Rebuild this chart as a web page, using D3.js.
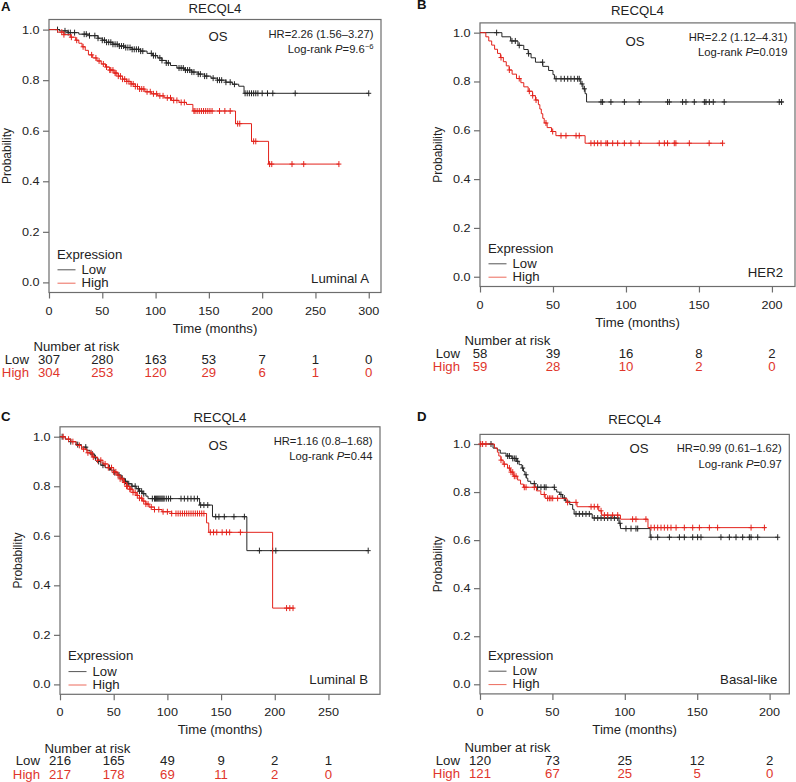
<!DOCTYPE html>
<html><head><meta charset="utf-8">
<script src="https://cdn.jsdelivr.net/npm/d3@7"></script>
<style>
body{margin:0;background:#fff}
svg{display:block}
text{font-family:"Liberation Sans",Arial,Helvetica,sans-serif;fill:#222}
</style>
</head><body>
<svg id="chart" width="796" height="782"></svg>
<script>
// ---------------- DATA ----------------
const yTicks = [0, 0.2, 0.4, 0.6, 0.8, 1.0];

// Panel A – Luminal A
const xTicksA = [0, 50, 100, 150, 200, 250, 300];
const riskLowA = [307, 280, 163, 53, 7, 1, 0];
const riskHighA = [304, 253, 120, 29, 6, 1, 0];
const lowStepsA = [[0,1],[10,0.995],[18,0.988],[28,0.982],[38,0.976],[46,0.966],[50,0.958],[54,0.95],[60,0.942],[66,0.935],[72,0.929],[78,0.922],[86,0.915],[92,0.906],[97,0.897],[102,0.888],[106,0.878],[110,0.868],[114,0.858],[120,0.848],[127,0.84],[134,0.832],[140,0.824],[146,0.816],[152,0.808],[158,0.8],[166,0.792],[172,0.784],[178,0.776],[183,0.748]];
const lowEndA = 300;
const highStepsA = [[0,1],[8,0.99],[14,0.98],[20,0.97],[25,0.958],[28,0.946],[31,0.932],[34,0.918],[37,0.9],[41,0.888],[45,0.876],[49,0.864],[53,0.852],[57,0.84],[61,0.828],[65,0.816],[69,0.804],[73,0.795],[77,0.785],[81,0.775],[85,0.765],[90,0.754],[96,0.746],[102,0.738],[108,0.73],[115,0.72],[122,0.712],[129,0.704],[135,0.678],[175,0.628],[190,0.558],[206,0.468]];
const highEndA = 272;
const lowCensorA = [8,15,18,20,24,33,35,38,43,46,50,52,54,56,58,60,62,64,66,68,70,72,74,76,78,80,82,84,86,88,96,98,100,104,106,110,112,122,124,126,128,130,132,134,136,140,142,146,148,154,158,160,162,166,170,174,184,186,188,190,192,194,196,200,205,210,231,300];
const highCensorA = [12,14,21,26,32,40,44,47,51,54,57,58,60,62,63,65,67,69,71,73,75,77,79,81,83,85,87,89,92,95,98,101,104,107,111,114,117,120,124,127,136,137,139,141,143,145,147,149,151,153,160,165,170,177,179,192,194,207,209,228,239,272];

// Panel B – HER2
const xTicksB = [0, 50, 100, 150, 200];
const riskLowB = [58, 39, 16, 8, 2];
const riskHighB = [59, 28, 10, 2, 0];
const lowStepsB = [[0,1],[15,0.983],[21,0.966],[26,0.948],[30,0.931],[33,0.914],[35,0.897],[38,0.879],[43,0.862],[47,0.845],[50,0.828],[51,0.811],[69,0.79],[70.5,0.77],[72,0.75],[73,0.716]];
const lowEndB = 208;
const highStepsB = [[0,1],[4,0.983],[6,0.966],[8,0.949],[10,0.932],[12,0.915],[14,0.898],[16,0.881],[18,0.864],[20,0.847],[22,0.83],[25,0.812],[28,0.795],[30,0.778],[33,0.76],[36,0.742],[38,0.724],[40,0.705],[41,0.687],[42,0.668],[43,0.649],[44,0.63],[46,0.611],[49,0.595],[52,0.578],[72,0.547]];
const highEndB = 166;
const lowCensorB = [11.4,21.9,24.2,26.9,33.3,42.9,52.1,55.5,57.8,60.1,62.3,64.6,66.9,68,69.9,71.5,82.9,84,89.7,98.9,109.1,128.5,129.7,138.8,141.1,146.8,153.7,154.8,157.1,159.8,167.3,205,206.6];
const highCensorB = [14.4,20.1,26.9,33.8,36.1,38.4,45.2,49.8,55.5,58.9,65.8,68,76,78.3,80.6,82.9,86.3,87.4,90.9,94.3,98.9,103.4,109.1,122.8,126.3,128.5,133.1,134.2,143.4,157,166.2];

// Panel C – Luminal B
const xTicksC = [0, 50, 100, 150, 200, 250];
const riskLowC = [216, 165, 49, 9, 2, 1];
const riskHighC = [217, 178, 69, 11, 2, 0];
const lowStepsC = [[0,1],[5,0.99],[10,0.98],[15,0.968],[20,0.958],[25,0.945],[28,0.93],[32,0.915],[35,0.9],[38,0.885],[42,0.875],[47,0.865],[50,0.855],[54,0.845],[57,0.832],[60,0.82],[63,0.81],[67,0.8],[71,0.79],[74,0.78],[77,0.77],[80,0.76],[82,0.75],[130,0.724],[142,0.677],[174,0.54]];
const lowEndC = 287;
const highStepsC = [[0,1],[5,0.99],[10,0.98],[15,0.965],[20,0.95],[25,0.935],[30,0.918],[35,0.905],[40,0.89],[45,0.875],[50,0.858],[53,0.845],[56,0.83],[59,0.815],[62,0.8],[65,0.788],[68,0.775],[71,0.763],[74,0.752],[77,0.74],[80,0.728],[83,0.716],[88,0.706],[95,0.697],[104,0.69],[136.5,0.652],[138.5,0.614],[198,0.308]];
const highEndC = 218;
const lowCensorC = [2,10,16.5,24,30,33,36,40,46,51,55,58,61,64,67,70,73,74,76,78,86,88,89,90,91,92,93,94,95,96,97,99,101,103,112.7,115.8,119,122,125,128,131,134,137.6,145,148,153,162,171.7,185.7,198,201,287];
const highCensorC = [3,8,12,18,22,26,29,31,35,38,42,45,48,50,52,54,56,58,60,62,63,65,66,68,70,72,74,76,78,80,82,85,88,92,96,100,104,108,110,112,114,116,118,120,122,124,126,128,130,132,134,140,143,146,151,155,158,168,211,214,217];

// Panel D – Basal-like
const xTicksD = [0, 50, 100, 150, 200];
const riskLowD = [120, 73, 25, 12, 2];
const riskHighD = [121, 67, 25, 5, 0];
const lowStepsD = [[0,1],[9,0.983],[12,0.975],[14,0.962],[18,0.95],[22,0.94],[25,0.928],[27,0.914],[29,0.9],[30,0.886],[31,0.872],[32,0.858],[33,0.845],[35,0.835],[38,0.82],[51.5,0.81],[53,0.8],[55,0.79],[57,0.775],[59,0.762],[62,0.748],[64,0.728],[65,0.709],[77.5,0.692],[96,0.67],[97,0.648],[117.5,0.612]];
const lowEndD = 205.6;
const highStepsD = [[0,1],[10,0.983],[12,0.966],[13,0.95],[14.5,0.933],[16,0.916],[19,0.9],[21,0.883],[23,0.866],[26,0.85],[28,0.833],[30,0.82],[39,0.805],[42,0.79],[45,0.774],[60,0.757],[67,0.739],[82,0.722],[84,0.704],[97,0.687],[116,0.652]];
const highEndD = 197.5;
const lowCensorD = [7.6,19.1,20.3,22.6,23.7,24.9,26,29.5,31.8,37.5,39.8,42.1,44.4,45.6,51.3,55.9,58.2,66.3,68.6,70.9,73.2,75.5,78.9,81.3,83.6,85.9,88.2,90.5,92.8,95.1,96.7,100.8,104.3,107.7,108.9,118.1,122.7,130.8,137.7,141.1,146.9,150.3,152.6,166.4,172.2,176.8,181.4,186,187.2,191.8,205.6];
const highCensorD = [0.5,1.8,4.1,14.5,16.8,20.3,21.4,22.6,23.7,24.9,30.6,31.8,37.5,44.4,46.7,47.9,49,50.2,53.6,60.5,66.3,76.7,78.9,81.3,83.6,85.9,88.2,91.6,95.1,105.4,107.7,114.6,118.1,120.4,122.7,125,127.3,129.6,131.9,135.4,141.1,146.9,151.5,158.4,164.1,187.2,196.4];

// Labels
const panelLetters = ["A", "B", "C", "D"];
const subtypes = ["Luminal A", "HER2", "Luminal B", "Basal-like"];
const hrLabels = ["HR=2.26 (1.56–3.27)", "HR=2.2 (1.12–4.31)", "HR=1.16 (0.8–1.68)", "HR=0.99 (0.61–1.62)"];
const pValues = ["9.6", "0.019", "0.44", "0.97"];
const pExponents = ["−6", "", "", ""];
const geneName = "RECQL4";

// ---------------- LAYOUT ----------------
const BLACK = "#262626", RED = "#e3231c", RED_TXT = "#e0362c", AXIS = "#6d6d6d";
const SX = 1.1;
const panels = [
  {box:[49,19.5,381,292.5], xMax:311.5, xTicks:xTicksA, low:lowStepsA, lowEnd:lowEndA, high:highStepsA, highEnd:highEndA, lowC:lowCensorA, highC:highCensorA, rl:riskLowA, rh:riskHighA, titleY:12.7, letter:[1,10.5], os:[218,40.7]},
  {box:[480,22.9,795,286.5], xMax:215.8, xTicks:xTicksB, low:lowStepsB, lowEnd:lowEndB, high:highStepsB, highEnd:highEndB, lowC:lowCensorB, highC:highCensorB, rl:riskLowB, rh:riskHighB, titleY:15, letter:[417,9], os:[635,46]},
  {box:[60,426.8,380,694.3], xMax:298, xTicks:xTicksC, low:lowStepsC, lowEnd:lowEndC, high:highStepsC, highEnd:highEndC, lowC:lowCensorC, highC:highCensorC, rl:riskLowC, rh:riskHighC, titleY:421.7, letter:[1,420.7], os:[218,450]},
  {box:[480,434.4,789.3,693.9], xMax:213.6, xTicks:xTicksD, low:lowStepsD, lowEnd:lowEndD, high:highStepsD, highEnd:highEndD, lowC:lowCensorD, highC:highCensorD, rl:riskLowD, rh:riskHighD, titleY:424.3, letter:[417,420.7], os:[639,453.3]}
];

const svg = d3.select("#chart");

function txt(g, x, y, s, size, anchor, color, weight) {
  return g.append("text")
    .attr("transform", `translate(${x},${y}) scale(${SX},1)`)
    .attr("text-anchor", anchor || "start")
    .style("font-size", size + "px")
    .style("fill", color || "#222")
    .style("font-weight", weight || "normal")
    .text(s);
}

function survAt(steps, t) {
  const i = d3.bisector(d => d[0]).right(steps, t) - 1;
  return steps[Math.max(0, i)][1];
}

panels.forEach((p, k) => {
  const [x0, y0, x1, y1] = p.box;
  const g = svg.append("g");
  const x = d3.scaleLinear().domain([0, p.xMax]).range([x0, x1]);
  const y = d3.scaleLinear().domain([-0.04, 1.04]).range([y1, y0]);

  // box
  g.append("rect").attr("x", x0).attr("y", y0).attr("width", x1 - x0).attr("height", y1 - y0)
    .attr("fill", "none").attr("stroke", AXIS).attr("stroke-width", 1.2);

  // axes
  const yAx = g.append("g").attr("transform", `translate(${x0},0)`)
    .call(d3.axisLeft(y).tickValues(yTicks).tickSize(6).tickFormat(d3.format(".1f")));
  const xAx = g.append("g").attr("transform", `translate(0,${y1})`)
    .call(d3.axisBottom(x).tickValues(p.xTicks).tickSize(6).tickFormat(d3.format("d")));
  [yAx, xAx].forEach(a => {
    a.select(".domain").remove();
    a.selectAll(".tick line").attr("stroke", AXIS).attr("stroke-width", 1.2);
    a.selectAll(".tick text").remove();
  });
  yTicks.forEach(v => txt(g, x0 - 9.5, y(v) + 4, d3.format(".1f")(v), 11.5, "end"));
  p.xTicks.forEach(v => txt(g, x(v), y1 + 22, String(v), 11.5, "middle"));

  // curves
  const line = d3.line().x(d => x(d[0])).y(d => y(d[1])).curve(d3.curveStepAfter);
  const series = [
    {steps: p.low, end: p.lowEnd, cens: p.lowC, color: BLACK},
    {steps: p.high, end: p.highEnd, cens: p.highC, color: RED}
  ];
  series.forEach(s => {
    const pts = s.steps.concat([[s.end, s.steps[s.steps.length - 1][1]]]);
    g.append("path").datum(pts).attr("d", line).attr("fill", "none")
      .attr("stroke", s.color).attr("stroke-width", 1);
    const cg = g.append("g").attr("stroke", s.color).attr("stroke-width", 1);
    s.cens.forEach(t => {
      const cx = x(t), cy = y(survAt(s.steps, t));
      cg.append("line").attr("x1", cx).attr("x2", cx).attr("y1", cy - 3).attr("y2", cy + 3);
      cg.append("line").attr("x1", cx - 2.5).attr("x2", cx + 2.5).attr("y1", cy).attr("y2", cy);
    });
  });

  // titles
  txt(g, p.letter[0], p.letter[1], panelLetters[k], 12, "start", "#111", "bold");
  txt(g, (x0 + x1) / 2, p.titleY, geneName, 12, "middle");
  txt(g, p.os[0], p.os[1], "OS", 12, "middle");
  txt(g, x1 - 7.5, y0 + 18, hrLabels[k], 10.2, "end");
  const lr = g.append("text")
    .attr("transform", `translate(${x1 - 7.5},${y0 + 33.5}) scale(${SX},1)`)
    .attr("text-anchor", "end").style("font-size", "10.2px");
  lr.append("tspan").text("Log-rank ");
  lr.append("tspan").style("font-style", "italic").text("P");
  lr.append("tspan").text("=" + pValues[k]);
  if (pExponents[k]) lr.append("tspan").attr("dy", -4).style("font-size", "7px").text(pExponents[k]);

  // y label
  g.append("text").attr("transform", `translate(${x0 - 38.5},${(y0 + y1) / 2}) rotate(-90)`)
    .attr("text-anchor", "middle").style("font-size", "12px").text("Probability");
  // x label
  txt(g, (x0 + x1) / 2, y1 + 40, "Time (months)", 12, "middle");

  // legend
  txt(g, x0 + 8, y1 - 34, "Expression", 12, "start");
  g.append("line").attr("x1", x0 + 8.5).attr("x2", x0 + 26.5).attr("y1", y1 - 22.7).attr("y2", y1 - 22.7)
    .attr("stroke", "#555").attr("stroke-width", 1);
  g.append("line").attr("x1", x0 + 8.5).attr("x2", x0 + 26.5).attr("y1", y1 - 9.3).attr("y2", y1 - 9.3)
    .attr("stroke", "#ec6a5c").attr("stroke-width", 1);
  txt(g, x0 + 32.5, y1 - 18.5, "Low", 12, "start");
  txt(g, x0 + 32.5, y1 - 5.5, "High", 12, "start");
  txt(g, x1 - 12, y1 - 10, subtypes[k], 12, "end");

  // risk table
  txt(g, x0 - 15.5, y1 + 58.5, "Number at risk", 12, "start");
  txt(g, x0 - 20, y1 + 71, "Low", 12, "end");
  txt(g, x0 - 20, y1 + 84.5, "High", 12, "end", RED_TXT);
  p.xTicks.forEach((v, i) => {
    txt(g, x(v), y1 + 71, String(p.rl[i]), 12, "middle");
    txt(g, x(v), y1 + 84.5, String(p.rh[i]), 12, "middle", RED_TXT);
  });
});
</script>
</body></html>
